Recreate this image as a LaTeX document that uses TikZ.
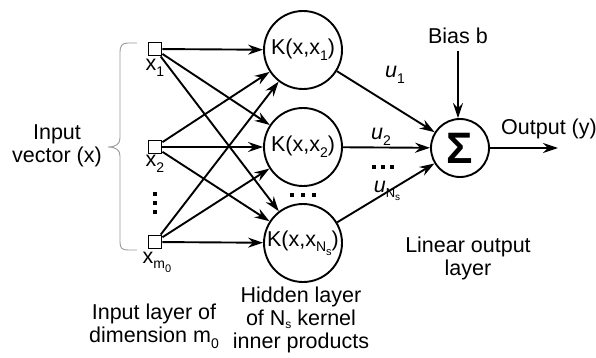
\documentclass[tikz,border=0pt]{standalone}
\usepackage{fontspec}
\setmainfont{Liberation Sans}
\usetikzlibrary{arrows.meta}
\newcommand\sbs[2][14]{\raisebox{-0.26em}{\fontsize{#1}{#1}\selectfont #2}}
\newcommand\sbsh[2][12]{\raisebox{-0.16em}{\fontsize{#1}{#1}\selectfont #2}}
\tikzset{
  arr/.style={line width=1.9pt,-{Stealth[length=15pt,width=10pt,inset=5pt]}},
  sq/.style={draw,line width=1.9pt,minimum size=13pt,inner sep=0pt,fill=white},
  knode/.style={draw,circle,line width=1.9pt,minimum size=78pt,inner sep=0pt},
  signode/.style={draw,circle,line width=1.9pt,minimum size=58pt,inner sep=0pt},
  lbl/.style={inner sep=0pt,align=center},
  brace/.style={draw=black!40,line width=0.9pt},
  dotsq/.style={fill=black,minimum size=4pt,inner sep=0pt}
}
\begin{document}
\begin{tikzpicture}[x=1pt,y=-1pt,font=\fontsize{21.5}{23}\selectfont]
\useasboundingbox (0,0) rectangle (596,358);
% input squares
\node[sq] (i1) at (155,49) {};
\node[sq] (i2) at (155,147) {};
\node[sq] (i3) at (155,242) {};
\node[lbl,anchor=base] (lx1) at (155,71) {x\sbs{1}};
\node[lbl,anchor=base] (lx2) at (155,167) {x\sbs{2}};
\node[lbl,anchor=base] (lx3) at (157,263) {x\sbs{m\sbs[11]{0}}};
% vertical dots
\node[dotsq] (vd1) at (155,194) {};
\node[dotsq] (vd2) at (155,203) {};
\node[dotsq] (vd3) at (155,212) {};
% kernel nodes
\node[knode] (k1) at (303,50) {K(x,x\sbs{1})};
\node[knode] (k2) at (303,147) {K(x,x\sbs{2})};
\node[knode] (k3) at (303,243) {K(x,x\sbs{N\sbs[11]{s}})};
\node[dotsq] (kd1) at (292,195) {};
\node[dotsq] (kd2) at (303,195) {};
\node[dotsq] (kd3) at (314,195) {};
% sum node
\node[signode] (sig) at (460,148) {\fontsize{44}{44}\selectfont\bfseries Σ};
% connections input -> kernel
\foreach \i in {i1,i2,i3}{
  \foreach \k in {k1,k2,k3}{
    \draw[arr] (\i) -- (\k);
  }
}
% kernel -> sum
\draw[arr] (k1) -- (sig);
\draw[arr] (k2) -- (sig);
\draw[arr] (k3) -- (sig);
\node[lbl,anchor=base] (u1) at (395,78) {\itshape u\sbs{\upshape 1}};
\node[lbl,anchor=base] (u2) at (381,140) {\itshape u\sbs{\upshape 2}};
\node[dotsq] (ud1) at (374,167) {};
\node[dotsq] (ud2) at (383,167) {};
\node[dotsq] (ud3) at (392,167) {};
\node[lbl,anchor=base] (u3) at (387,192) {\itshape u\sbs[13]{\upshape N\sbs[10]{s}}};
% bias
\node[lbl,anchor=base] (bias) at (458,44) {Bias b};
\draw[arr] ([yshift=-7pt]bias.south) -- (bias.south |- sig.north);
% output
\coordinate (yout) at (558,148);
\draw[arr] (sig) -- (yout);
\node[lbl,anchor=base] (outl) at (549,135) {Output (y)};
% brace
\draw[brace] (137,43) -- (128,43) .. controls (122,43) and (120,46) .. (120,52)
  -- (120,138) .. controls (120,144) and (116,147) .. (108,147)
  .. controls (116,147) and (120,150) .. (120,156)
  -- (120,242) .. controls (120,248) and (122,250) .. (128,250) -- (137,250);
% labels
\node[lbl] (inp) at (57,146) {Input\\vector (x)};
\node[lbl] (lay1) at (154,326) {Input layer of\\dimension m\sbs{0}};
\node[lbl] (lay2) at (301,319.5) {Hidden layer\\of N\sbsh{s} kernel\\inner products};
\node[lbl] (lay3) at (468,258) {Linear output\\layer};
\end{tikzpicture}
\end{document}
